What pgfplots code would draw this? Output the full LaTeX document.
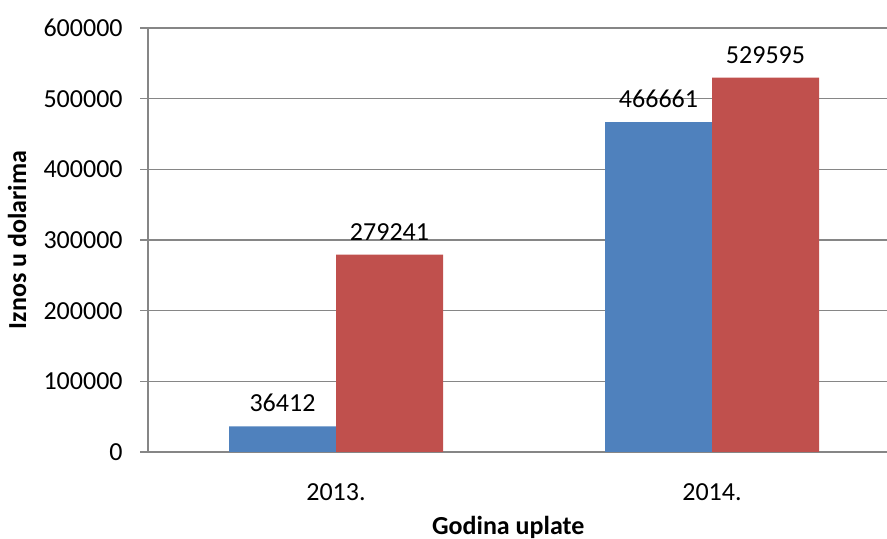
\documentclass[border=0pt]{standalone}
\usepackage{pgfplots}
\pgfplotsset{compat=1.18}
\usepackage{fontspec}
\setmainfont{Carlito}
\definecolor{sblue}{HTML}{4F81BD}
\definecolor{sred}{HTML}{C0504D}
\definecolor{gridg}{HTML}{868686}
\begin{document}
\fontsize{13}{15.6}\selectfont
\begin{tikzpicture}
\useasboundingbox (0,0) rectangle (443.5pt,269.5pt);
\clip (0,0) rectangle (443.5pt,269.5pt);
\begin{axis}[
  at={(74pt,43.5pt)}, anchor=south west,
  scale only axis, width=376pt, height=212pt,
  ybar=0pt, bar width=53.5pt,
  xmin=-0.5, xmax=1.5, ymin=0, ymax=600000,
  xtick={0,1}, xticklabels={2013.,2014.},
  ytick={0,100000,...,600000},
  scaled y ticks=false,
  /pgf/number format/fixed, /pgf/number format/1000 sep={},
  /pgf/number format/assume math mode=true,
  axis x line*=bottom, axis y line*=left,
  axis line style={gridg, line width=0.8pt, -},
  ymajorgrids, grid style={gridg, line width=0.8pt},
  y tick style={gridg, line width=0.8pt}, tick align=outside,
  major tick length=4pt,
  x tick style={draw=none},
  tick label style={font=\fontsize{13}{15.6}\selectfont, text=black},
  yticklabel style={anchor=east, inner sep=0pt, xshift=-8.5pt},
  xticklabel style={anchor=center, inner sep=0pt, yshift=-16pt},
  xlabel={Godina uplate}, ylabel={Iznos u dolarima},
  label style={font=\fontsize{13}{15.6}\selectfont\bfseries},
  xlabel style={at={(axis description cs:0.479,-0.177)}, anchor=center},
  ylabel style={at={(axis description cs:-0.1742,0.5)}, anchor=center},
  nodes near coords,
  every node near coord/.append style={font=\fontsize{13}{15.6}\selectfont, text=black, anchor=south, inner sep=0pt, yshift=7pt},
  clip=false,
]
\addplot[fill=sblue, draw=none] coordinates {(0,36412) (1,466661)};
\addplot[fill=sred, draw=none] coordinates {(0,279241) (1,529595)};
\end{axis}
\end{tikzpicture}
\end{document}
